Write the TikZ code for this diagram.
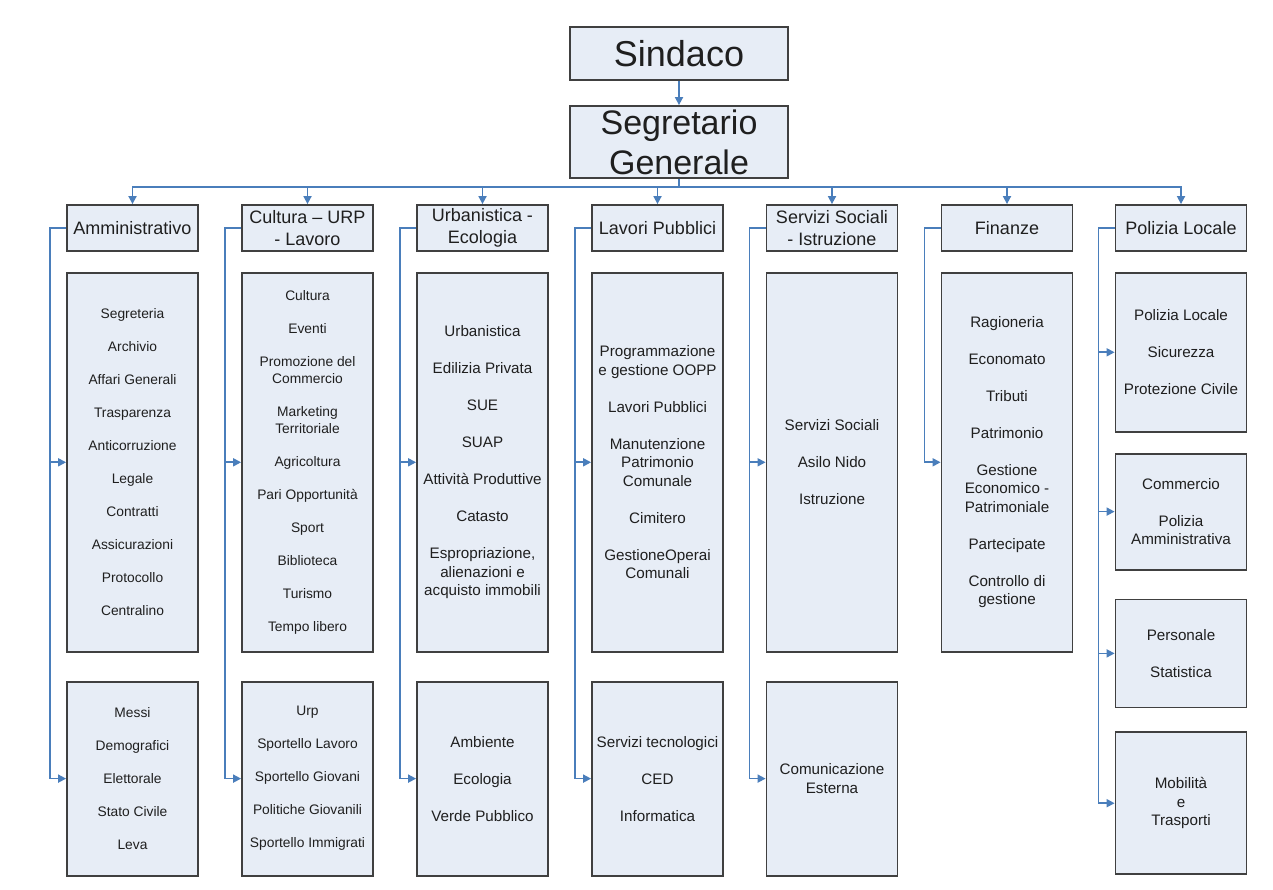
\documentclass[tikz,border=0pt]{standalone}
\usepackage{fontspec}
\setmainfont{Liberation Sans}
\usepackage{xcolor}
\usetikzlibrary{arrows.meta,positioning}

\definecolor{boxfill}{HTML}{E7EDF6}
\definecolor{boxline}{HTML}{404040}
\definecolor{linkblue}{HTML}{4A7EBB}
\newlength{\itemgap}
\newcommand{\nx}{\\[\itemgap]}

\begin{document}
\begin{tikzpicture}[
  x=1pt, y=-1pt,
  node distance=20pt,
  box/.style={rectangle, draw=boxline, line width=1.8pt, fill=boxfill, align=center, text=black!88, inner sep=2pt},
  topbox/.style={box, minimum width=218pt},
  hbox/.style={box, minimum width=131pt, minimum height=46pt, font={\fontsize{18}{22}\selectfont}},
  unit/.style={box, minimum width=131pt, font={\fontsize{13.8}{17}\selectfont\setlength{\itemgap}{16pt}}},
  bigunit/.style={box, minimum width=131pt, font={\fontsize{15.2}{18.5}\selectfont\setlength{\itemgap}{18.5pt}}},
  arr/.style={-{Triangle[length=8pt,width=8pt]}, draw=linkblue, line width=1.7pt},
]
  \path[use as bounding box, fill=white] (0,0) rectangle (1273,890);

  % vertici
  \node[topbox, minimum height=53pt, font={\fontsize{36}{40}\selectfont}] (sindaco) at (679,53.5) {Sindaco};
  \node[topbox, minimum height=72pt, font={\fontsize{34}{40}\selectfont}] (segretario) at (679,142) {Segretario\\Generale};

  % settori
  \node[hbox] (amm) at (132.5,228) {Amministrativo};
  \node[hbox] (cul) at (307.5,228) {Cultura – URP\\- Lavoro};
  \node[hbox] (urb) at (482.5,228) {Urbanistica -\\Ecologia};
  \node[hbox] (lav) at (657.5,228) {Lavori Pubblici};
  \node[hbox] (ser) at (832,228) {Servizi Sociali\\- Istruzione};
  \node[hbox] (fin) at (1007,228) {Finanze};
  \node[hbox] (pol) at (1181,228) {Polizia Locale};

  % uffici
  \node[unit, minimum height=379pt, below=of amm] (amm1) {Segreteria\nx Archivio\nx Affari Generali\nx Trasparenza\nx Anticorruzione\nx Legale\nx Contratti\nx Assicurazioni\nx Protocollo\nx Centralino};
  \node[unit, minimum height=194pt, below=28pt of amm1] (amm2) {Messi\nx Demografici\nx Elettorale\nx Stato Civile\nx Leva};

  \node[unit, minimum height=379pt, below=of cul] (cul1) {Cultura\nx Eventi\nx Promozione del\\Commercio\nx Marketing\\Territoriale\nx Agricoltura\nx Pari Opportunità\nx Sport\nx Biblioteca\nx Turismo\nx Tempo libero};
  \node[unit, minimum height=194pt, below=28pt of cul1] (cul2) {Urp\nx Sportello Lavoro\nx Sportello Giovani\nx Politiche Giovanili\nx Sportello Immigrati};

  \node[bigunit, minimum height=379pt, below=of urb] (urb1) {Urbanistica\nx Edilizia Privata\nx SUE\nx SUAP\nx Attività Produttive\nx Catasto\nx Espropriazione,\\alienazioni e\\acquisto immobili};
  \node[bigunit, minimum height=194pt, below=28pt of urb1] (urb2) {Ambiente\nx Ecologia\nx Verde Pubblico};

  \node[bigunit, minimum height=379pt, below=of lav] (lav1) {Programmazione\\e gestione OOPP\nx Lavori Pubblici\nx Manutenzione\\Patrimonio\\Comunale\nx Cimitero\nx GestioneOperai\\Comunali};
  \node[bigunit, minimum height=194pt, below=28pt of lav1] (lav2) {Servizi tecnologici\nx CED\nx Informatica};

  \node[bigunit, minimum height=379pt, below=of ser] (ser1) {Servizi Sociali\nx Asilo Nido\nx Istruzione};
  \node[bigunit, minimum height=194pt, below=28pt of ser1] (ser2) {Comunicazione\\Esterna};

  \node[bigunit, minimum height=379pt, below=of fin] (fin1) {Ragioneria\nx Economato\nx Tributi\nx Patrimonio\nx Gestione\\Economico -\\Patrimoniale\nx Partecipate\nx Controllo di\\gestione};

  \node[bigunit, minimum height=159pt, below=of pol] (pol1) {Polizia Locale\nx Sicurezza\nx Protezione Civile};
  \node[bigunit, minimum height=116pt, below=20pt of pol1] (pol2) {Commercio\nx Polizia\\Amministrativa};
  \node[bigunit, minimum height=108pt, below=28pt of pol2] (pol3) {Personale\nx Statistica};
  \node[bigunit, minimum height=142pt, below=23pt of pol3] (pol4) {Mobilità\\e\\Trasporti};

  % collegamenti
  \draw[arr] (sindaco) -- (segretario);
  \foreach \h in {amm,cul,urb,lav,ser,fin,pol}
    \draw[arr] (segretario.south) -- ++(0,8) -| (\h.north);
  \foreach \h/\u in {amm/amm1,amm/amm2,cul/cul1,cul/cul2,urb/urb1,urb/urb2,lav/lav1,lav/lav2,ser/ser1,ser/ser2,fin/fin1,pol/pol1,pol/pol2,pol/pol3,pol/pol4}
    \draw[arr] (\h.west) -- ++(-16,0) |- (\u.west);
\end{tikzpicture}
\end{document}
